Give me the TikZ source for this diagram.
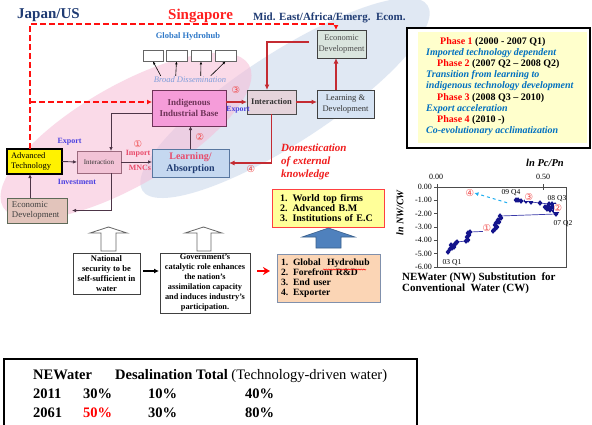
\documentclass[tikz,border=0pt]{standalone}
\usepackage{fontspec}
\setmainfont{Liberation Serif}
\newfontfamily\circfont{DejaVu Sans}
\usetikzlibrary{arrows.meta,calc,decorations.pathmorphing}

\newcommand{\fsz}[2]{\fontsize{#1}{#2}\selectfont}

\definecolor{navyT}{HTML}{1F3B73}
\definecolor{sgred}{HTML}{FF2020}
\definecolor{dashred}{HTML}{FF1010}
\definecolor{arrred}{HTML}{C42B32}
\definecolor{darkarr}{HTML}{4D3547}
\definecolor{hubblue}{HTML}{2E78C8}
\definecolor{dissem}{HTML}{7D9DDB}
\definecolor{expblue}{HTML}{4B40E0}
\definecolor{pinkE}{HTML}{F6BCD6}
\definecolor{blueE}{HTML}{CCD9EC}
\definecolor{indigF}{HTML}{F59CD9}
\definecolor{indigD}{HTML}{6E3358}
\definecolor{intLF}{HTML}{F2C3D6}
\definecolor{intLD}{HTML}{9C6A7E}
\definecolor{ecoLF}{HTML}{E2C4BB}
\definecolor{ecoLD}{HTML}{5E6A58}
\definecolor{learnF}{HTML}{C5D8F0}
\definecolor{learnB}{HTML}{5877A0}
\definecolor{intRF}{HTML}{E5D4DB}
\definecolor{ldF}{HTML}{D6E3F3}
\definecolor{ecoRF}{HTML}{DAE5DE}
\definecolor{pinkred}{HTML}{E84A6A}
\definecolor{circred}{HTML}{F04848}
\definecolor{domred}{HTML}{F01C1C}
\definecolor{wyellow}{HTML}{FFFF99}
\definecolor{peach}{HTML}{FBD5B5}
\definecolor{peachB}{HTML}{8090AC}
\definecolor{arrblue}{HTML}{4F81BD}
\definecolor{arrblueB}{HTML}{3A5F8C}
\definecolor{phyellow}{HTML}{FFFFCC}
\definecolor{phred}{HTML}{FF0000}
\definecolor{phblue}{HTML}{0070C0}
\definecolor{navyM}{HTML}{14148C}
\definecolor{plotline}{HTML}{3A3AA8}
\definecolor{cyanA}{HTML}{1EAEF0}

\begin{document}
\begin{tikzpicture}[x=1pt,y=-1pt,
  box/.style={draw, align=center, inner sep=0pt, outer sep=0pt},
  darr/.style={draw=darkarr, line width=0.9pt, -{Latex[length=4pt,width=3.6pt]}},
  rarr/.style={draw=arrred, line width=1.6pt, -{Latex[length=5.5pt,width=5pt]}},
  rdash/.style={draw=dashred, line width=1.8pt, dash pattern=on 6pt off 3pt},
  thinarr/.style={draw=black, line width=0.6pt, -{Latex[length=3pt,width=2.6pt]}},
  circ/.style={font=\circfont\fsz{9.5}{9.5}, text=circred, inner sep=0pt},
  hubbox/.style={draw=black!60, line width=0.8pt, fill=white, minimum width=20pt, minimum height=11pt, inner sep=0pt},
  blockarr/.style={draw=black!60, line width=0.8pt, fill=white},
  phase/.style={anchor=base west, inner sep=0pt, font=\fsz{10}{11}\bfseries},
  phdesc/.style={anchor=base west, inner sep=0pt, font=\fsz{10}{11}\bfseries\itshape, text=phblue},
  tick/.style={draw=black!70, line width=0.5pt},
  ticklab/.style={font=\fsz{8}{8}, inner sep=0pt},
  qlab/.style={font=\fsz{7.5}{8}, inner sep=0pt},
  tab/.style={anchor=base west, inner sep=0pt, font=\fsz{14.5}{15}\bfseries},
]
\useasboundingbox (0,0) rectangle (592,424);
\fill[white] (0,0) rectangle (592,424);

% background regions
\fill[blueE, opacity=0.6, rotate around={33:(285,98)}] (285,98) ellipse [x radius=170pt, y radius=45pt];
\fill[pinkE, opacity=0.55, rotate around={30:(126,136)}] (126,136) ellipse [x radius=142pt, y radius=50pt];

% region titles
\node[anchor=base west, inner sep=0pt, font=\fsz{15}{15}\bfseries, text=navyT] (jp) at (17,18.5) {Japan/US};
\node[anchor=base west, inner sep=0pt, font=\fsz{15}{15}\bfseries, text=sgred] (sg) at (168,19) {Singapore};
\node[anchor=base west, inner sep=0pt, font=\fsz{11}{11}\bfseries, text=navyT] (me) at (253,20) {Mid. East/Africa/Emerg.\ \ Ecom.};

% global hydrohub
\node[font=\fsz{8.5}{9}\bfseries, text=hubblue] (ghub) at (188,36) {Global Hydrohub};
\node[hubbox, minimum width=20pt] (hb1) at (153,55.5) {};
\node[hubbox, minimum width=21pt] (hb2) at (176.5,55.5) {};
\node[hubbox] (hb3) at (201,55.5) {};
\node[hubbox, minimum width=21pt] (hb4) at (225.5,55.5) {};
\node[font=\fsz{8.5}{9}\itshape, text=dissem, inner sep=1pt] (bd) at (190,80) {Broad Dissemination};
\draw[thinarr] ($(bd.north west)+(8,0)$) -- (hb1.south);
\draw[thinarr] ($(bd.north west)+(23,0)$) -- (hb2.south);
\draw[thinarr] ($(bd.north west)+(48,0)$) -- (hb3.south);
\draw[thinarr] ($(bd.north west)+(58,0)$) -- (hb4.south);

% main boxes
\node[box, fill=indigF, draw=indigD, line width=0.9pt, minimum width=74pt, minimum height=36pt, font=\fsz{9}{10.7}\bfseries, text=indigD] (indig) at (189,108) {Indigenous\\Industrial Base};
\node[box, fill=intRF, draw=black!70, line width=0.9pt, minimum width=49pt, minimum height=24pt, font=\fsz{8.5}{9}\bfseries, text=black!80] (intR) at (271.5,102) {Interaction};
\node[box, fill=ldF, draw=black!75, line width=0.9pt, minimum width=57pt, minimum height=28pt, font=\fsz{8.5}{10.5}, text=black!80] (learndev) at (345.5,104) {Learning \&\\Development};
\node[box, fill=ecoRF, draw=black!75, line width=0.9pt, minimum width=49pt, minimum height=28pt, font=\fsz{8.5}{10.5}, text=black!70] (ecoR) at (341.5,44) {Economic\\Development};
\node[box, fill=learnF, draw=learnB, line width=0.9pt, minimum width=77pt, minimum height=28pt, font=\fsz{10}{12}\bfseries] (learnA) at (190.5,163) {\textcolor{pinkred}{Learning/}\\\textcolor{navyT}{Absorption}};
\node[box, fill=yellow, draw=black, line width=1.3pt, minimum width=55pt, minimum height=25pt, text width=47pt, align=left, font=\fsz{8.5}{10}] (advtech) at (34.5,161.5) {Advanced\\Technology};
\node[box, fill=intLF, draw=intLD, line width=0.9pt, minimum width=44pt, minimum height=22pt, font=\fsz{7}{8}, text=black!80] (intL) at (99,162) {Interaction};
\node[box, fill=ecoLF, draw=ecoLD, line width=0.9pt, minimum width=60pt, minimum height=25pt, text width=50pt, align=left, font=\fsz{8.8}{10.5}, text=black!75] (ecoL) at (37,210.5) {Economic\\Development};

% dashed red links from Japan/US
\coordinate (dtl) at (30,24);
\coordinate (dbr) at (30,102);
\coordinate (c336) at (336,0);
\draw[rdash, -{Latex[length=5pt,width=5pt]}] (advtech.north -| dtl) -- (dtl) -| (ecoR.north -| c336);
\draw[rdash, -{Latex[length=5pt,width=5pt]}] (dbr) -- (dbr -| indig.west);

% dark connectors (left cluster)
\coordinate (j1) at (111,113);
\coordinate (j2) at (30,0);
\draw[darr] (indig.west |- j1) -- (j1) -- (j1 |- intL.north);
\draw[darr, shorten >=5pt] (j1 |- intL.south) -- (j1 |- ecoL.east) -- (ecoL.east);
\draw[darr] (ecoL.north -| j2) -- (advtech.south -| j2);
\draw[darr] (advtech.east) -- (intL.west);
\draw[darr] (intL.east) -- (intL.east -| learnA.west);
\draw[darr] (learnA.north) -- (learnA.north |- indig.south);

% red connectors
\coordinate (k) at (267,42);
\draw[rarr] (intR.west -| indig.east) -- (intR.west);
\draw[rarr] (intR.east) -- (intR.east -| learndev.west);
\draw[rarr] (learndev.north -| c336) -- (ecoR.south -| c336);
\draw[rarr, shorten <=8pt] (ecoR.west |- k) -- (k) -- (k |- intR.north);
\draw[rarr] (intR.south) |- (learnA.east);

% connector labels
\node[font=\fsz{8}{9}\bfseries, text=expblue, inner sep=0pt] (expL) at (69.5,141.5) {Export};
\node[font=\fsz{8}{9}\bfseries, text=expblue, inner sep=0pt] (inv) at (77,181.5) {Investment};
\node[font=\fsz{8}{9}\bfseries, text=pinkred, inner sep=0pt] (imp) at (138,154) {Import};
\node[font=\fsz{8}{9}\bfseries, text=pinkred, inner sep=0pt] (mnc) at (140,167.5) {MNCs};
\node[font=\fsz{7.8}{9}\bfseries, text=expblue, inner sep=0pt] (expR) at (238,110) {Export};
\node[circ] (c1) at (138,144) {①};
\node[circ] (c2) at (200,137) {②};
\node[circ] (c3) at (236,90) {③};
\node[circ] (c4) at (251,169) {④};

\node[anchor=north west, align=left, inner sep=0pt, font=\fsz{11}{13}\bfseries\itshape, text=domred] (dom) at (281,144) {Domestication\\of external\\knowledge};

% knowledge sources and policy outputs
\node[box, fill=wyellow, draw=red!75, line width=0.6pt, minimum width=112pt, minimum height=38pt, text width=96pt, align=left, font=\fsz{10}{10}\bfseries] (world) at (328,208) {1. World top firms\\2. Advanced B.M\\3. Institutions of E.C};
\draw[fill=arrblue, draw=arrblueB, line width=0.6pt] (316,248) -- (316,237) -- (302,237) -- (328.5,228) -- (355,237) -- (341,237) -- (341,248) -- cycle;
\node[box, fill=peach, draw=peachB, line width=0.8pt, minimum width=103pt, minimum height=48pt, text width=95pt, align=left, font=\fsz{9.6}{10}\bfseries] (hydro) at (328.5,278) {1. Global\ \ Hydrohub\\2. Forefront R\&D\\3. End user\\4. Exporter};
\draw[red, line width=0.5pt, decorate, decoration={snake, amplitude=0.6pt, segment length=2.5pt}] (323,269.5) -- (366,269.5);

\node[box, fill=white, draw=black!75, line width=0.8pt, minimum width=67pt, minimum height=41pt, font=\fsz{8.5}{10}\bfseries] (natl) at (106.5,273.5) {National\\security to be\\self-sufficient in\\water};
\node[box, fill=white, draw=black!75, line width=0.8pt, minimum width=90pt, minimum height=60pt, font=\fsz{8.3}{10}\bfseries] (gov) at (205,283) {Government's\\catalytic role enhances\\the nation's\\assimilation capacity\\and induces industry's\\participation.};
\coordinate (r1) at (0,271);
\draw[draw=black, line width=1.3pt, -{Latex[length=5pt,width=5pt]}, shorten <=3pt, shorten >=1pt] (natl.east |- r1) -- (gov.west |- r1);
\draw[draw=red, line width=1.6pt, -{Stealth[length=7pt,width=8pt]}, shorten <=7pt, shorten >=7pt] (gov.east |- r1) -- (hydro.west |- r1);
\draw[blockarr] (101,251) -- (101,233) -- (90,233) -- (108.5,227) -- (127,233) -- (116,233) -- (116,251) -- cycle;
\draw[blockarr] (197,251) -- (197,233) -- (185,233) -- (203.5,227) -- (222,233) -- (211,233) -- (211,251) -- cycle;

% phase legend
\node[box, fill=white, draw=black, line width=2pt, minimum width=183pt, minimum height=120pt] (phbox) at (498.5,88) {};
\node[fill=phyellow, inner sep=0pt, minimum width=169pt, minimum height=111pt] (phin) at (502.5,87.5) {};
\node[phase] (p1) at (440,44) {\textcolor{phred}{Phase 1} (2000 - 2007 Q1)};
\node[phdesc] (d1) at (426,55.2) {Imported technology dependent};
\node[phase] (p2) at (437,66.4) {\textcolor{phred}{Phase 2} (2007 Q2 -- 2008 Q2)};
\node[phdesc] (d2a) at (426,77.6) {Transition from learning to};
\node[phdesc] (d2b) at (426,88.8) {indigenous technology development};
\node[phase] (p3) at (437,100) {\textcolor{phred}{Phase 3} (2008 Q3 -- 2010)};
\node[phdesc] (d3) at (426,111.2) {Export acceleration};
\node[phase] (p4) at (437,122.4) {\textcolor{phred}{Phase 4} (2010 -)};
\node[phdesc] (d4) at (426,133.6) {Co-evolutionary acclimatization};

% substitution chart
\node[font=\fsz{10.5}{11}\bfseries\itshape, inner sep=0pt] (xtitle) at (545,163) {ln Pc/Pn};
\node[rotate=90, font=\fsz{10}{10}\bfseries\itshape, inner sep=0pt] (ytitle) at (400,213) {ln NW/CW};
\draw[draw=black!70, line width=0.6pt] (437,187) rectangle (566,267);
\foreach \k/\lab in {0/0.00,1/-1.00,2/-2.00,3/-3.00,4/-4.00,5/-5.00,6/-6.00} {
  \draw[tick] (434,187+13.333*\k) -- (437,187+13.333*\k);
  \node[ticklab, anchor=east] at (432,187+13.333*\k) {\lab};
}
\draw[tick] (437,184) -- (437,187);
\draw[tick] (543,184) -- (543,190);
\node[ticklab] (x0) at (436,177) {0.00};
\node[ticklab] (x5) at (543,177) {0.50};
\draw[draw=plotline, line width=0.7pt] plot coordinates {(448,252) (450,249) (452,248) (453,246) (451,245) (455,244) (454,247) (456,243) (457,242)
   (466,241) (468,240) (467,237) (469,235) (468,233) (470,232)
   (493,231) (495,229) (497,227) (495,225) (496,223) (499,222) (498,220) (501,218) (500,216)
   (556,214) (557,212) (554,211) (550,210) (547,209) (545,207) (548,206) (551,208) (553,207) (555,205) (552,204) (549,204)
   (540,203) (531,202) (526,201) (521,201) (518,200) (516,200)};
\foreach \px/\py in {448/252, 450/249, 452/248, 453/246, 451/245, 455/244, 454/247, 456/243, 457/242,
   466/241, 468/240, 467/237, 469/235, 468/233, 470/232,
   493/231, 495/229, 497/227, 495/225, 496/223, 499/222, 498/220, 501/218, 500/216,
   556/214, 557/212, 554/211, 550/210, 547/209, 545/207, 548/206, 551/208, 553/207, 555/205, 552/204, 549/204,
   540/203, 531/202, 526/201, 521/201, 518/200, 516/200} {
  \fill[navyM] (\px,\py) +(0,-2.8) -- +(2.4,0) -- +(0,2.8) -- +(-2.4,0) -- cycle;
}
\node[qlab] (q03) at (452,263) {03 Q1};
\node[qlab] (q07) at (563,224) {07 Q2};
\node[qlab] (q08) at (557,199) {08 Q3};
\node[qlab] (q09) at (511,193) {09 Q4};
\node[circ, fill=white] (g1) at (487,228) {①};
\node[circ, fill=white] (g2) at (558,208) {②};
\node[circ, fill=white] (g3) at (529,197) {③};
\node[circ] (g4) at (470,193) {④};
\draw[cyanA, line width=1pt, dashed, -{Latex[length=4pt,width=4pt]}, shorten <=2pt] ($(q09.south)+(-2,7)$) -- (g4.east);
\node[anchor=north west, align=left, inner sep=0pt, font=\fsz{11}{10.7}\bfseries] (cap) at (402,273) {NEWater (NW) Substitution\ \ for\\Conventional\ \ Water (CW)};

% water share table
\draw[black, line width=1.3pt] (4,440) -- (4,359) -- (417,359) -- (417,440);
\node[tab] (h1) at (33,379) {NEWater};
\node[tab] (h2) at (115,379) {Desalination Total \mdseries(Technology-driven water)};
\node[tab] (y1) at (33,398) {2011};
\node[tab] (a1) at (83,398) {30\%};
\node[tab] (b1) at (148,398) {10\%};
\node[tab] (t1) at (245,398) {40\%};
\node[tab] (y2) at (33,417) {2061};
\node[tab, text=red] (a2) at (83,417) {50\%};
\node[tab] (b2) at (148,417) {30\%};
\node[tab] (t2) at (245,417) {80\%};
\end{tikzpicture}
\end{document}
